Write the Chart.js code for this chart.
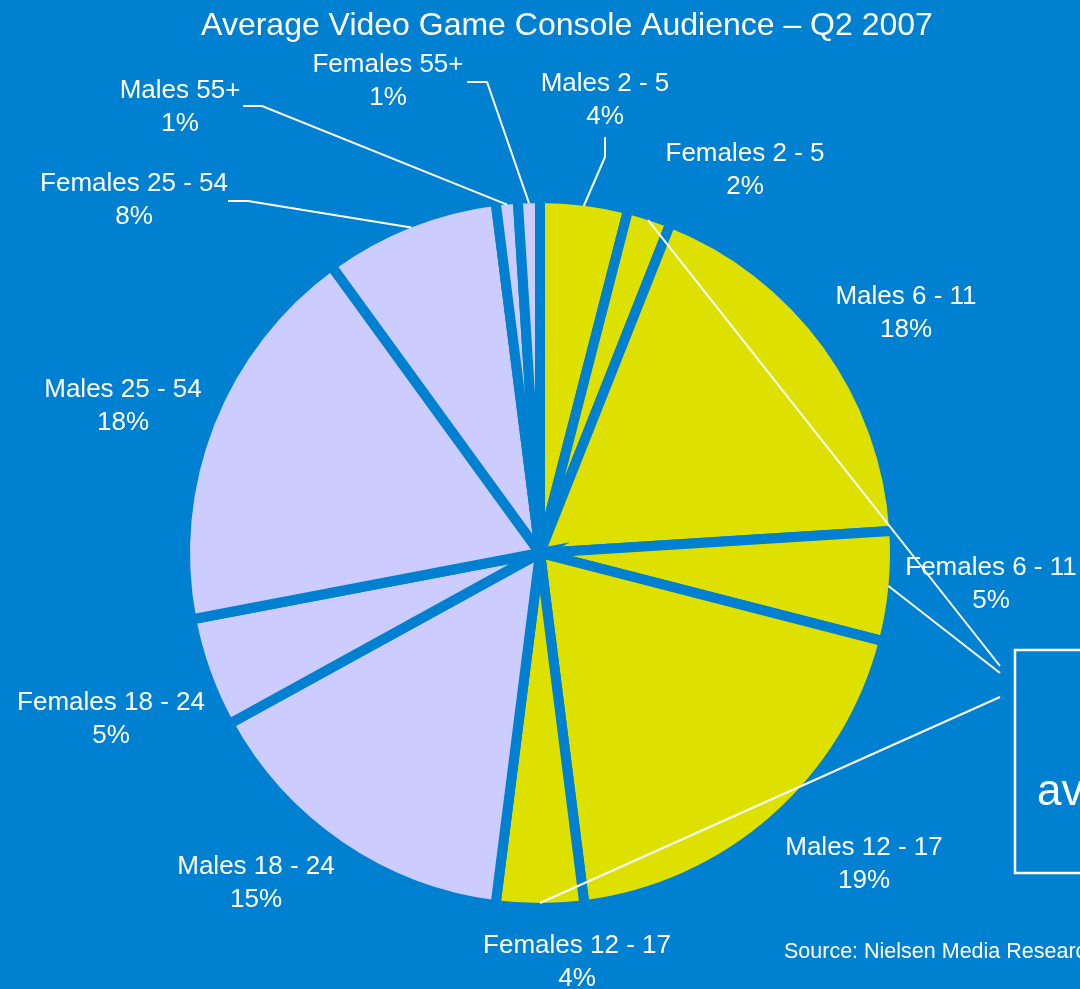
<!DOCTYPE html>
<html>
<head>
<meta charset="utf-8">
<title>Average Video Game Console Audience – Q2 2007</title>
<script src="https://cdn.jsdelivr.net/npm/chart.js@4/dist/chart.umd.min.js"></script>
<style>
  html, body { margin: 0; padding: 0; background: #0080D0; overflow: hidden; }
  canvas { display: block; }
</style>
</head>
<body>
<canvas id="audience" width="1080" height="989"></canvas>
<script>
// Audience segments, clockwise from 12 o'clock
const categories = [
  'Males 2 - 5', 'Females 2 - 5', 'Males 6 - 11', 'Females 6 - 11',
  'Males 12 - 17', 'Females 12 - 17', 'Males 18 - 24', 'Females 18 - 24',
  'Males 25 - 54', 'Females 25 - 54', 'Males 55+', 'Females 55+'
];
// Share of the average console audience, percent
const shares = [4, 2, 18, 5, 19, 4, 15, 5, 18, 8, 1, 1];
// Under-18 segments are drawn in yellow, adults in lavender
const youthSegments = ['Males 2 - 5', 'Females 2 - 5', 'Males 6 - 11', 'Females 6 - 11', 'Males 12 - 17', 'Females 12 - 17'];
// Segments tied to the callout box
const calloutSegments = ['Females 2 - 5', 'Females 6 - 11', 'Females 12 - 17'];
const titleText = 'Average Video Game Console Audience – Q2 2007';
const sourceText = 'Source: Nielsen Media Research';
const calloutText = 'average';

// ---- styling / placement ----
const BG = '#0080D0';
const YELLOW = '#DEE100';
const LAVENDER = '#CCCCFF';
const FONT = '"Liberation Sans", Arial, Helvetica, sans-serif';
const GAP = 10;

// label centre (first line) relative to the pie centre
const labelOffsets = [
  [65, -472], [205, -402], [366, -259], [451, 12],
  [324, 292], [37, 390], [-284, 311], [-429, 147],
  [-417, -166], [-406, -372], [-360, -465], [-152, -491]
];
// leader lines: label-side start and elbow, relative to the pie centre
const leaders = {
  'Males 2 - 5': [[65, -416], [65, -396]],
  'Females 55+': [[-73, -471], [-53, -471]],
  'Males 55+': [[-297, -447], [-278, -447]],
  'Females 25 - 54': [[-312, -352], [-292, -352]]
};
// callout line ends near the box, relative to the pie centre
const calloutEnds = [[460, 113], [460, 120], [460, 144]];
const calloutBox = { left: 475, top: 97, bottom: 320 };

const annotate = {
  id: 'annotate',
  beforeDraw(chart) {
    const ctx = chart.ctx;
    ctx.save();
    ctx.fillStyle = BG;
    ctx.fillRect(0, 0, chart.width, chart.height);
    ctx.restore();
  },
  afterDatasetsDraw(chart) {
    const ctx = chart.ctx;
    const meta = chart.getDatasetMeta(0);
    const cx = meta.data[0].x, cy = meta.data[0].y;
    const edgePoint = (i) => {
      const p = meta.data[i].getProps(['startAngle', 'endAngle', 'outerRadius'], true);
      const mid = (p.startAngle + p.endAngle) / 2;
      const r = p.outerRadius - GAP / 2;
      return [cx + Math.cos(mid) * r, cy + Math.sin(mid) * r];
    };

    ctx.save();
    ctx.strokeStyle = '#FFFFFF';
    ctx.fillStyle = '#FFFFFF';
    ctx.lineWidth = 2;
    ctx.lineJoin = 'miter';

    // leader lines
    categories.forEach((name, i) => {
      const l = leaders[name];
      if (!l) return;
      const [ex, ey] = edgePoint(i);
      ctx.beginPath();
      ctx.moveTo(cx + l[0][0], cy + l[0][1]);
      ctx.lineTo(cx + l[1][0], cy + l[1][1]);
      ctx.lineTo(ex, ey);
      ctx.stroke();
    });

    // callout lines and box
    calloutSegments.forEach((name, k) => {
      const i = categories.indexOf(name);
      const [ex, ey] = edgePoint(i);
      ctx.beginPath();
      ctx.moveTo(ex, ey);
      ctx.lineTo(cx + calloutEnds[k][0], cy + calloutEnds[k][1]);
      ctx.stroke();
    });
    ctx.lineWidth = 2.5;
    ctx.strokeRect(cx + calloutBox.left, cy + calloutBox.top, 400, calloutBox.bottom - calloutBox.top);
    ctx.textAlign = 'left';
    ctx.textBaseline = 'alphabetic';
    ctx.font = '44px ' + FONT;
    ctx.fillText(calloutText, cx + 497, cy + 252);

    // segment labels
    ctx.textAlign = 'center';
    ctx.font = '26px ' + FONT;
    categories.forEach((name, i) => {
      const [dx, dy] = labelOffsets[i];
      ctx.fillText(name, cx + dx, cy + dy + 9.5);
      ctx.fillText(shares[i] + '%', cx + dx, cy + dy + 43);
    });

    // title
    ctx.font = '32px ' + FONT;
    ctx.fillText(titleText, 567, 35);

    // source
    ctx.textAlign = 'left';
    ctx.font = '21.5px ' + FONT;
    ctx.fillText(sourceText, 784, 958);
    ctx.restore();
  }
};

new Chart(document.getElementById('audience'), {
  type: 'pie',
  data: {
    labels: categories,
    datasets: [{
      data: shares,
      backgroundColor: categories.map(c => youthSegments.includes(c) ? YELLOW : LAVENDER),
      borderColor: BG,
      borderWidth: GAP,
      borderJoinStyle: 'miter',
      radius: 350 + GAP / 2,
      hoverOffset: 0
    }]
  },
  options: {
    responsive: false,
    animation: false,
    events: [],
    layout: { padding: { top: 117, bottom: 0, left: 0, right: 0 } },
    plugins: {
      legend: { display: false },
      tooltip: { enabled: false },
      title: { display: false }
    }
  },
  plugins: [annotate]
});
</script>
</body>
</html>
